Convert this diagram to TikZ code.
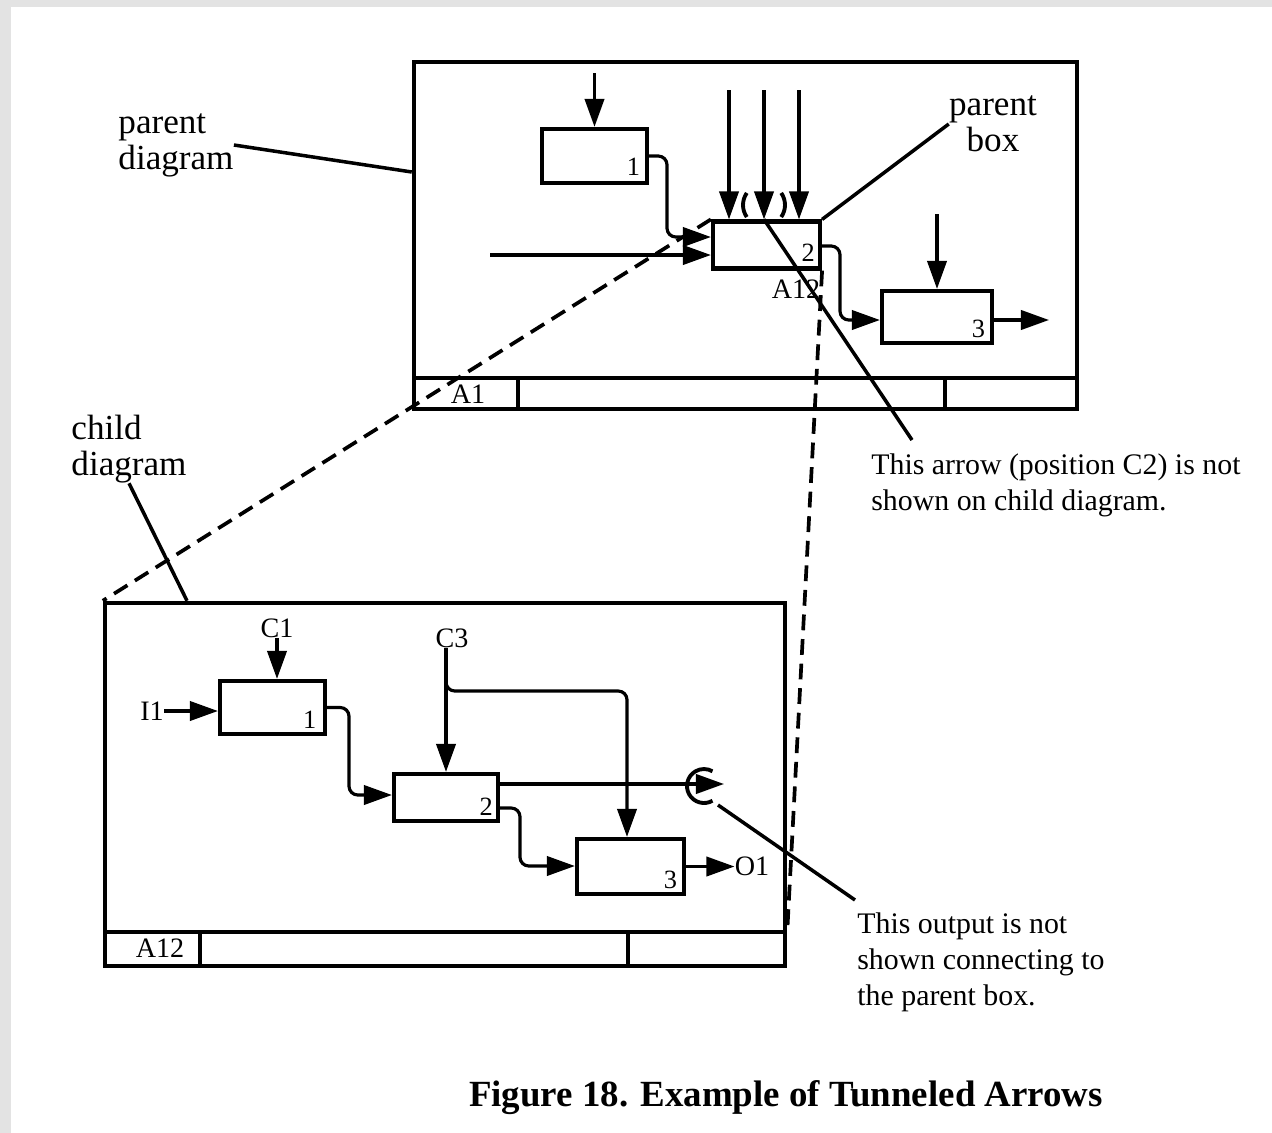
\documentclass[tikz,border=0pt]{standalone}
\usepackage{fontspec}
\setmainfont{Liberation Serif}
\usetikzlibrary{arrows.meta}
\tikzset{
  frm/.style={draw,line width=2.6pt,inner sep=0pt},
  bx/.style={draw,line width=2.4pt,inner sep=0pt},
  arr/.style={line width=1.8pt,-{Triangle[length=16pt,width=11pt]}},
  elbow/.style={arr,rounded corners=5pt},
  dsh/.style={line width=2.1pt,dash pattern=on 9pt off 5pt},
  ptr/.style={line width=2pt},
  tun/.style={line width=2.2pt},
  big/.style={font=\fontsize{20}{20.4}\selectfont,align=left,inner sep=0pt},
  note/.style={font=\fontsize{17}{20.6}\selectfont,align=left,inner sep=0pt,anchor=north west},
  tag/.style={font=\fontsize{16}{16}\selectfont,inner sep=0pt},
  num/.style={font=\fontsize{15}{15}\selectfont,inner sep=0pt,anchor=south east}
}

\begin{document}
\begin{tikzpicture}[x=0.02cm,y=-0.02cm]
\fill[gray!22] (0,0) rectangle (1272,1133);
\fill[white] (11,7) rectangle (1272,1133);
\useasboundingbox (0,0) rectangle (1272,1133);

% parent diagram
\node[frm,minimum width=13.26cm,minimum height=6.94cm] (pf) at (745.5,235.5) {};
\draw[frm] (414,378) -- (1077,378); \draw[frm] (518,378) -- (518,409); \draw[frm] (945,378) -- (945,409);
\node[tag] (pa1) at (468,394) {A1};

\node[bx,minimum width=2.1cm,minimum height=1.08cm] (pb1) at (594.5,156) {};
\node[bx,minimum width=2.14cm,minimum height=0.94cm] (pb2) at (766.5,245) {};
\node[bx,minimum width=2.2cm,minimum height=1.04cm] (pb3) at (937,317) {};
\node[num] (pn1) at ([shift={(-5pt,5pt)}]pb1.south east) {1};
\node[num] (pn2) at ([shift={(-4pt,5pt)}]pb2.south east) {2};
\node[num] (pn3) at ([shift={(-5pt,4pt)}]pb3.south east) {3};
\node[tag] (pa12) at (796,289) {A12};

\coordinate (pc0) at (594.5,73); \draw[arr] (pc0) -- (pb1.north);
\foreach \i/\x in {1/729,2/764,3/799}{
  \coordinate (pc\i) at (\x,90); \draw[arr] (pc\i) -- (pc\i |- pb2.north);
}
\coordinate (tp) at (764,205);
\draw[tun] (tp) ++(145:21) arc[start angle=145,end angle=215,radius=21];
\draw[tun] (tp) ++(-35:21) arc[start angle=-35,end angle=35,radius=21];
\coordinate (pi1) at (490,255); \draw[arr] (pi1) -- (pi1 -| pb2.west);
\draw[elbow] (pb1.east) -- (667,156) -- (667,237) -- (pb2.west |- 0,237);
\draw[elbow] (pb2.east |- 0,246) -- (840,246) -- (840,320) -- (pb3.west |- 0,320);
\coordinate (pc4) at (937,214); \draw[arr] (pc4) -- (pb3.north);
\coordinate (po1) at (1049,320); \draw[arr] (pb3.east |- po1) -- (po1);

% child diagram
\node[frm,minimum width=13.6cm,minimum height=7.26cm] (cf) at (445,784.5) {};
\draw[frm] (105,932) -- (785,932); \draw[frm] (200,932) -- (200,966); \draw[frm] (628,932) -- (628,966);
\node[tag] (ca12) at (160,948) {A12};

\node[bx,minimum width=2.1cm,minimum height=1.06cm] (cb1) at (272.5,707.5) {};
\node[bx,minimum width=2.08cm,minimum height=0.94cm] (cb2) at (446,797.5) {};
\node[bx,minimum width=2.14cm,minimum height=1.1cm] (cb3) at (630.5,866.5) {};
\node[num] (cn1) at ([shift={(-6pt,4pt)}]cb1.south east) {1};
\node[num] (cn2) at ([shift={(-4pt,4pt)}]cb2.south east) {2};
\node[num] (cn3) at ([shift={(-5pt,4pt)}]cb3.south east) {3};

\node[tag] (lc1) at (277,628) {C1};
\node[tag] (li1) at (152,711) {I1};
\node[tag] (lc3) at (452,638) {C3};
\node[tag] (lo1) at (752,866) {O1};
\draw[arr] (lc1.south) -- (lc1.south |- cb1.north);
\draw[arr] (li1.east) -- (li1.east -| cb1.west);
\draw[elbow] (cb1.east) -- (349,707.5) -- (349,795) -- (cb2.west |- 0,795);
\draw[arr] (lc3.south -| cb2.north) -- (cb2.north);
\draw[elbow] (lc3.south -| cb2.north) |- (627,691) -- (cb3.north -| 627,0);
\draw[elbow] (cb2.east |- 0,808) -- (520,808) -- (520,866) -- (cb3.west |- 0,866);
\draw[arr] (cb3.east) -- (cb3.east -| lo1.west);
\coordinate (to) at (724,784); \draw[arr] (cb2.east |- to) -- (to);
\draw[tun] (704,786) ++(60:17) arc[start angle=60,end angle=300,radius=17];

% tunnel lines and callouts
\draw[dsh] (pb2.north west) -- (cf.north west);
\draw[dsh] (pb2.south east) -- (cf.east |- 0,932);
\node[big] (pdl) at (176,145) {parent\\diagram};
\node[big] (cdl) at (129,449) {child\\diagram};
\node[big,align=center] (pbl) at (993,124) {parent\\box};
\draw[ptr] (pdl.east) -- (pf.west |- 0,172);
\draw[ptr] (cdl.south) -- (cf.north -| 187,0);
\draw[ptr] (pbl.west) -- (pb2.north east);
\node[note] (n1) at (871,453) {This arrow (position C2) is not\\shown on child diagram.};
\coordinate (n1t) at (912,440); \draw[ptr] (pc2 |- pb2.north) -- (n1t);
\node[note] (n2) at (857,912) {This output is not\\shown connecting to\\the parent box.};
\coordinate (n2t) at (855,900); \coordinate (n2s) at (718,805); \draw[ptr] (n2s) -- (n2t);
\node[font=\fontsize{21}{21}\selectfont\bfseries] (fig) at (786,1098) {Figure 18. Example of Tunneled Arrows};
\end{tikzpicture}
\end{document}
